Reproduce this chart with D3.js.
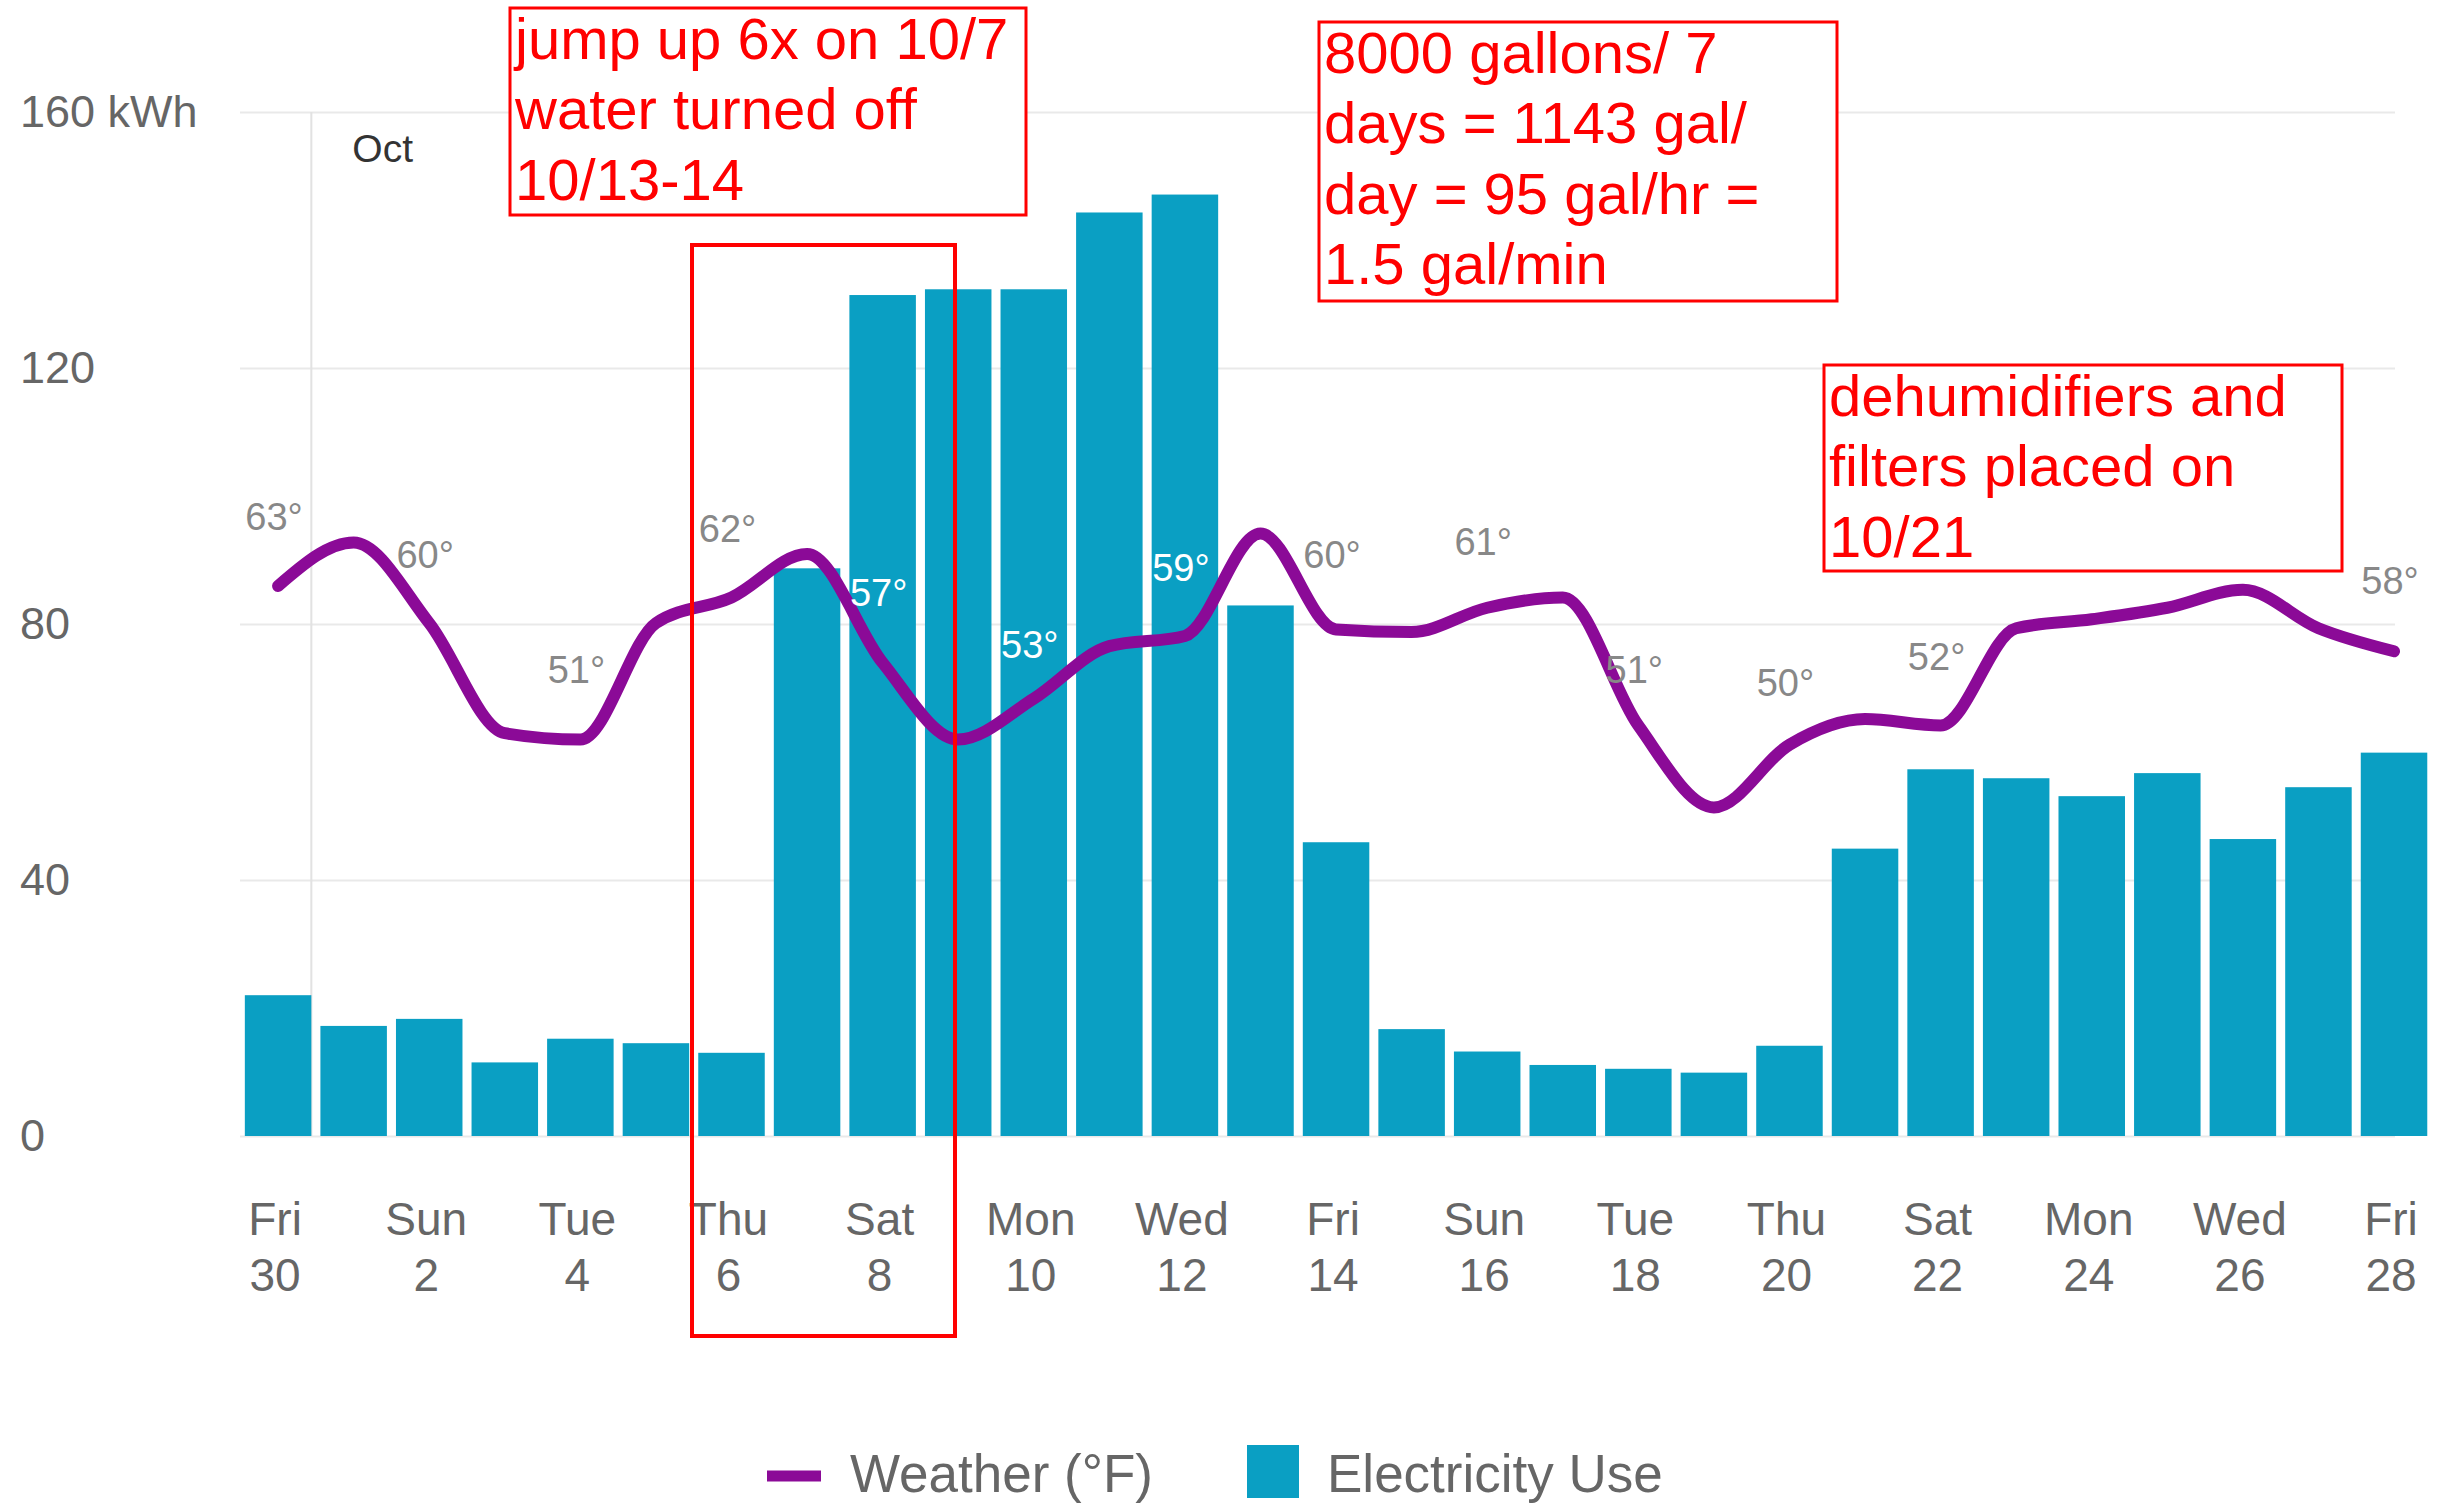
<!DOCTYPE html>
<meta charset="utf-8">
<style>

body { margin: 0; background: #fff; }
svg { display: block; font-family: "Liberation Sans", Arial, sans-serif; }

.grid line { stroke: #e9e9e9; stroke-width: 2px; }
.grid path, .axis path { display: none; }
.axis text { fill: #666; }

.bars rect { fill: #0a9fc3; }

.weather {
  fill: none;
  stroke: #8b0a97;
  stroke-width: 12px;
  stroke-linecap: round;
  stroke-linejoin: round;
}

.note rect { fill: #fff; stroke: #ff0000; stroke-width: 3px; }
.note text { fill: #ff0000; font-size: 58px; }

</style>
<svg width="2445" height="1503"></svg>
<script src="https://d3js.org/d3.v7.min.js"></script>
<script>

// one bar per day, Sep 30 - Oct 28
var dayLabels = ["Fri 30","Sat 1","Sun 2","Mon 3","Tue 4","Wed 5","Thu 6",
  "Fri 7","Sat 8","Sun 9","Mon 10","Tue 11","Wed 12","Thu 13",
  "Fri 14","Sat 15","Sun 16","Mon 17","Tue 18","Wed 19","Thu 20",
  "Fri 21","Sat 22","Sun 23","Mon 24","Tue 25","Wed 26","Thu 27","Fri 28"];

var kwh = [22.0, 17.2, 18.3, 11.5, 15.2, 14.5, 13.0,
  88.7, 131.4, 132.3, 132.3, 144.3, 147.1, 82.9,
  45.9, 16.7, 13.2, 11.1, 10.5, 9.9, 14.1,
  44.9, 57.3, 55.9, 53.1, 56.7, 46.4, 54.5, 59.9];

// smoothed weather line (deg F)
var avgTemp = [57.5, 60.9, 54.6, 46.0, 45.5, 54.6, 56.6,
  60.0, 51.5, 45.5, 48.7, 52.8, 53.6, 61.6,
  54.1, 53.9, 55.8, 56.6, 46.6, 40.2, 45.1,
  47.1, 46.6, 54.2, 54.9, 55.8, 57.2, 54.2, 52.4];

// high temp labels shown every other day (24 and 26 hidden under the note)
var highTemp = [63, null, 60, null, 51, null, 62,
  null, 57, null, 53, null, 59, null,
  60, null, 61, null, 51, null, 50,
  null, 52, null, null, null, null, null, 58];

var yTicks = [0, 40, 80, 120, 160];

var notes = [
  {x: 510, y: 8, w: 516, h: 207, lines: ["jump up 6x on 10/7", "water turned off", "10/13-14"]},
  {x: 1319, y: 22, w: 518, h: 279, lines: ["8000 gallons/ 7", "days = 1143 gal/", "day = 95 gal/hr =", "1.5 gal/min"]},
  {x: 1824, y: 365, w: 518, h: 206, lines: ["dehumidifiers and", "filters placed on", "10/21"]}
];

var svg = d3.select("svg");

var x = d3.scaleBand()
    .domain(d3.range(dayLabels.length))
    .range([240.3, 2431.8])
    .paddingInner(0.12)
    .paddingOuter(0.06);

var y = d3.scaleLinear().domain([0, 160]).range([1136, 112]);
var t = d3.scaleLinear().domain([20, 70]).range([1066, 426]);

var cx = function(i) { return x(i) + x.bandwidth() / 2; };

// gridlines
svg.append("g")
    .attr("class", "grid")
    .attr("transform", "translate(240,0)")
    .call(d3.axisLeft(y).tickValues(yTicks).tickSize(-2155).tickFormat(""));

// month divider
svg.append("line")
    .attr("x1", x(0) + x.bandwidth()).attr("x2", x(0) + x.bandwidth())
    .attr("y1", y(160)).attr("y2", y(0))
    .attr("stroke", "#e2e2e2").attr("stroke-width", 2);

svg.append("text")
    .attr("x", x(0) + x.bandwidth() + 41).attr("y", 162)
    .attr("font-size", 39).attr("fill", "#333")
    .text("Oct");

// y labels
svg.append("g")
    .attr("class", "axis")
    .attr("transform", "translate(20,0)")
    .call(d3.axisRight(y).tickValues(yTicks).tickSize(0).tickPadding(0)
      .tickFormat(function(d) { return d === 160 ? "160 kWh" : d; }))
    .selectAll("text").attr("font-size", 45);

// x labels, two lines each
var xAxis = svg.append("g")
    .attr("class", "axis")
    .attr("transform", "translate(0," + y(0) + ")")
    .call(d3.axisBottom(x).tickValues(d3.range(0, dayLabels.length, 2)).tickSize(0));

xAxis.selectAll(".tick line").remove();
xAxis.selectAll(".tick text")
    .attr("font-size", 46)
    .each(function(i) {
      var el = d3.select(this), parts = dayLabels[i].split(" ");
      el.text(null).attr("y", null).attr("dy", null);
      el.append("tspan").attr("x", -3).attr("y", 99).text(parts[0]);
      el.append("tspan").attr("x", -3).attr("y", 155).text(parts[1]);
    });

// bars
svg.append("g")
    .attr("class", "bars")
  .selectAll("rect")
  .data(kwh)
  .enter().append("rect")
    .attr("x", function(d, i) { return x(i); })
    .attr("y", function(d) { return y(d); })
    .attr("width", x.bandwidth())
    .attr("height", function(d) { return y(0) - y(d); });

// weather line
svg.append("path")
    .datum(avgTemp)
    .attr("class", "weather")
    .attr("d", d3.line()
      .x(function(d, i) { return cx(i); })
      .y(function(d) { return t(d); })
      .curve(d3.curveMonotoneX));

// temperature labels
svg.append("g")
  .selectAll("text")
  .data(highTemp.map(function(d, i) { return {v: d, i: i}; })
    .filter(function(d) { return d.v !== null; }))
  .enter().append("text")
    .attr("x", function(d) { return cx(d.i) - 4; })
    .attr("y", function(d) { return t(d.v) + 14; })
    .attr("text-anchor", "middle")
    .attr("font-size", 38)
    .attr("fill", function(d) { return t(d.v) > y(kwh[d.i]) ? "#fff" : "#888"; })
    .text(function(d) { return d.v + "°"; });

// highlight around Thu 6 - Sat 8
svg.append("rect")
    .attr("x", 692).attr("y", 245)
    .attr("width", 263).attr("height", 1091)
    .attr("fill", "none").attr("stroke", "#ff0000").attr("stroke-width", 4);

// annotation boxes
var note = svg.selectAll(".note")
  .data(notes)
  .enter().append("g")
    .attr("class", "note")
    .attr("transform", function(d) { return "translate(" + d.x + "," + d.y + ")"; });

note.append("rect")
    .attr("width", function(d) { return d.w; })
    .attr("height", function(d) { return d.h; });

note.each(function(d) {
  d3.select(this).selectAll("text")
    .data(d.lines)
    .enter().append("text")
      .attr("x", 5)
      .attr("y", function(s, k) { return 51 + k * 70.3; })
      .text(function(s) { return s; });
});

// legend
var legend = svg.append("g").attr("font-size", 53).attr("fill", "#666");

legend.append("line")
    .attr("x1", 767).attr("x2", 821).attr("y1", 1476).attr("y2", 1476)
    .attr("stroke", "#8b0a97").attr("stroke-width", 11);
legend.append("text").attr("x", 850).attr("y", 1492).text("Weather (°F)");

legend.append("rect")
    .attr("x", 1247).attr("y", 1445).attr("width", 52).attr("height", 53)
    .attr("fill", "#0a9fc3");
legend.append("text").attr("x", 1327).attr("y", 1492).text("Electricity Use");

</script>
